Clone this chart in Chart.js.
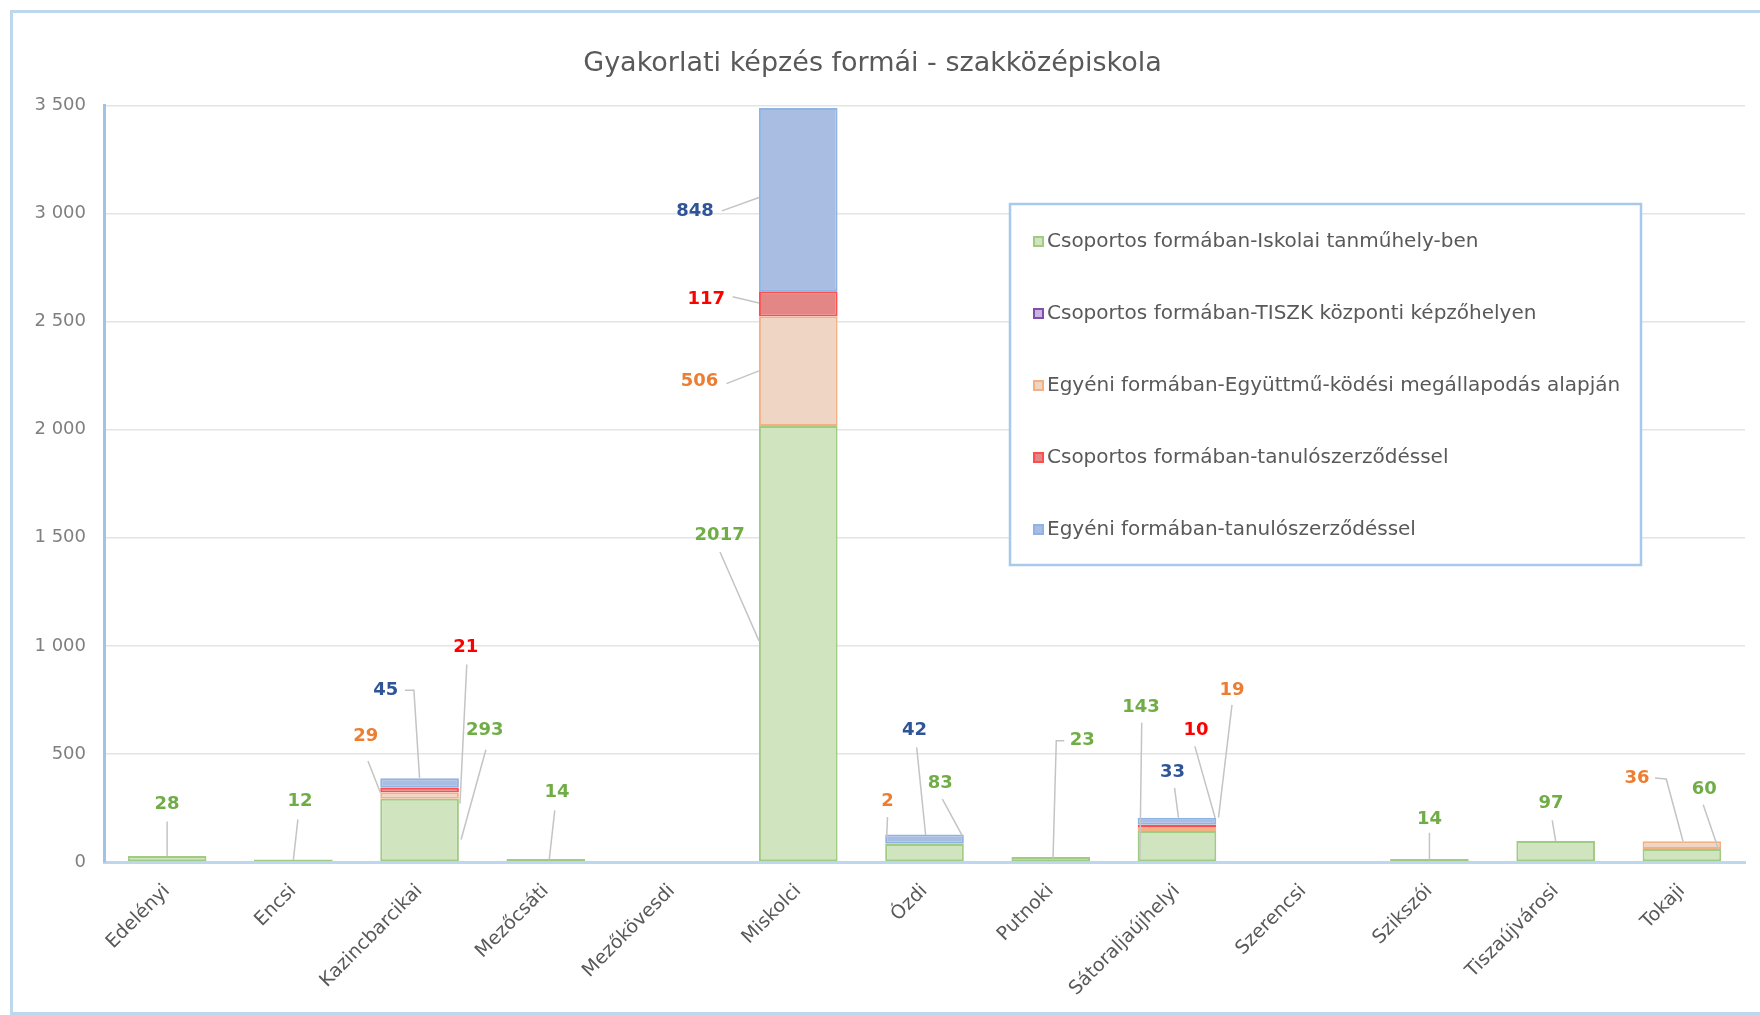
<!DOCTYPE html>
<html>
<head>
<meta charset="utf-8">
<script src="https://cdn.jsdelivr.net/npm/chart.js@4.4.1/dist/chart.umd.min.js"></script>
<style>
  html, body { margin: 0; padding: 0; background: #fff; }
  #wrap { position: relative; width: 1760px; height: 1015px; overflow: hidden; }
  #frame {
    position: absolute; left: 10px; top: 10px; width: 1800px; height: 999px;
    border-left: 3px solid #bdd7ee; border-top: 3px solid #bdd7ee; border-bottom: 3px solid #bdd7ee;
    pointer-events: none;
  }
</style>
</head>
<body>
<div id="wrap">
  <canvas id="chart" width="1760" height="1015"></canvas>
  <div id="frame"></div>
</div>
<script>
const $ = (id) => document.getElementById(id);

const categories = [
  "Edelényi", "Encsi", "Kazincbarcikai", "Mezőcsáti", "Mezőkövesdi", "Miskolci", "Ózdi",
  "Putnoki", "Sátoraljaújhelyi", "Szerencsi", "Szikszói", "Tiszaújvárosi", "Tokaji",
];
const seriesNames = [
  "Csoportos formában-Iskolai tanműhely-ben",
  "Csoportos formában-TISZK központi képzőhelyen",
  "Egyéni formában-Együttmű-ködési megállapodás alapján",
  "Csoportos formában-tanulószerződéssel",
  "Egyéni formában-tanulószerződéssel",
];
const iskolaiTanmuhely = [28, 12, 293, 14, 0, 2017, 83, 23, 143, 0, 14, 97, 60];
const tiszkKozponti = [0, 0, 0, 0, 0, 0, 0, 0, 0, 0, 0, 0, 0];
const egyuttmukodesi = [0, 0, 29, 0, 0, 506, 2, 0, 19, 0, 0, 0, 36];
const csoportosSzerzodes = [0, 0, 21, 0, 0, 117, 0, 0, 10, 0, 0, 0, 0];
const egyeniSzerzodes = [0, 0, 45, 0, 0, 848, 42, 0, 33, 0, 0, 0, 0];
const yMax = 3500;
const yStep = 500;

const fills = ["#d0e4bf", "#cbb5df", "#efd5c3", "#e28686", "#a9bde3"];
const borders = ["#a0cb82", "#7f4fb0", "#f3b183", "#ff4d4d", "#8fb3e3"];
const labelColors = ["#70ad47", "#7030a0", "#ed7d31", "#ff0000", "#2f5597"];

// data labels: series index, category, label offset (category units) and value height,
// leader line as [category offset, value] points
const labelLayout = [
  { ds: 0, cat: 0, dx: 0, v: 265, line: [[0, 187], [0, 28]] },
  { ds: 0, cat: 1, dx: 0.053, v: 280, line: [[0.036, 197], [0, 10]] },
  { ds: 2, cat: 2, dx: -0.427, v: 582, line: [[-0.409, 467], [-0.31, 320]] },
  { ds: 4, cat: 2, dx: -0.267, v: 795, line: [[-0.116, 795], [-0.045, 795], [0, 388]] },
  { ds: 3, cat: 2, dx: 0.365, v: 992, line: [[0.374, 914], [0.32, 270]] },
  { ds: 0, cat: 2, dx: 0.516, v: 607, line: [[0.525, 519], [0.329, 104]] },
  { ds: 0, cat: 3, dx: 0.089, v: 322, line: [[0.071, 239], [0.027, 10]] },
  { ds: 4, cat: 5, dx: -0.818, v: 3012, line: [[-0.605, 3012], [-0.311, 3074]] },
  { ds: 3, cat: 5, dx: -0.729, v: 2602, line: [[-0.52, 2615], [-0.311, 2586]] },
  { ds: 2, cat: 5, dx: -0.782, v: 2223, line: [[-0.569, 2213], [-0.311, 2272]] },
  { ds: 0, cat: 5, dx: -0.623, v: 1511, line: [[-0.62, 1434], [-0.311, 1023]] },
  { ds: 2, cat: 6, dx: -0.293, v: 280, line: [[-0.293, 208], [-0.3, 114]] },
  { ds: 4, cat: 6, dx: -0.08, v: 608, line: [[-0.062, 530], [0.009, 125]] },
  { ds: 0, cat: 6, dx: 0.125, v: 363, line: [[0.142, 291], [0.302, 119]] },
  { ds: 0, cat: 7, dx: 0.249, v: 561, line: [[0.107, 561], [0.044, 561], [0.018, 16]] },
  { ds: 0, cat: 8, dx: -0.285, v: 717, line: [[-0.279, 644], [-0.294, 10]] },
  { ds: 4, cat: 8, dx: -0.036, v: 415, line: [[-0.019, 343], [0.012, 205]] },
  { ds: 3, cat: 8, dx: 0.151, v: 607, line: [[0.142, 535], [0.302, 205]] },
  { ds: 2, cat: 8, dx: 0.436, v: 794, line: [[0.436, 727], [0.329, 205]] },
  { ds: 0, cat: 10, dx: 0, v: 197, line: [[0, 135], [0, 10]] },
  { ds: 0, cat: 11, dx: -0.036, v: 270, line: [[-0.027, 192], [0, 97]] },
  { ds: 2, cat: 12, dx: -0.356, v: 389, line: [[-0.213, 389], [-0.124, 384], [0.009, 96]] },
  { ds: 0, cat: 12, dx: 0.178, v: 337, line: [[0.169, 265], [0.289, 60]] },
];

const legendBox = { left: 1010, top: 204, right: 1641, bottom: 565, firstRow: 241, rowGap: 72 };

const fmtThousands = (v) => String(v).replace(/\B(?=(\d{3})+(?!\d))/g, " ");

const leaderLabels = {
  id: "leaderLabels",
  afterDatasetsDraw(chart) {
    const { ctx, scales: { x, y } } = chart;
    const cw = x.getPixelForValue(1) - x.getPixelForValue(0);
    const px = (cat, dx) => x.getPixelForValue(cat) + dx * cw;
    ctx.save();
    for (const l of labelLayout) {
      ctx.strokeStyle = "#c4c4c4";
      ctx.lineWidth = 1.5;
      ctx.beginPath();
      l.line.forEach(([dx, v], i) => {
        const X = px(l.cat, dx), Y = y.getPixelForValue(v);
        if (i) ctx.lineTo(X, Y); else ctx.moveTo(X, Y);
      });
      ctx.stroke();
    }
    ctx.font = "bold 18px 'DejaVu Sans'";
    ctx.textAlign = "center";
    ctx.textBaseline = "middle";
    for (const l of labelLayout) {
      ctx.fillStyle = labelColors[l.ds];
      ctx.fillText(String(chart.data.datasets[l.ds].data[l.cat]), px(l.cat, l.dx), y.getPixelForValue(l.v));
    }
    ctx.restore();
  },
};

const boxLegend = {
  id: "boxLegend",
  afterDraw(chart) {
    const { ctx } = chart;
    const b = legendBox;
    ctx.save();
    ctx.fillStyle = "#fff";
    ctx.fillRect(b.left, b.top, b.right - b.left, b.bottom - b.top);
    ctx.strokeStyle = "#a9c9ea";
    ctx.lineWidth = 2.5;
    ctx.strokeRect(b.left, b.top, b.right - b.left, b.bottom - b.top);
    ctx.font = "20px 'DejaVu Sans'";
    ctx.textAlign = "left";
    ctx.textBaseline = "middle";
    chart.data.datasets.forEach((ds, i) => {
      const cy = b.firstRow + i * b.rowGap;
      ctx.fillStyle = ds.backgroundColor;
      ctx.fillRect(b.left + 23, cy - 5, 11, 11);
      ctx.strokeStyle = ds.borderColor;
      ctx.lineWidth = 2;
      ctx.strokeRect(b.left + 24, cy - 4, 9, 9);
      ctx.fillStyle = "#595959";
      ctx.fillText(ds.label, b.left + 37, cy + 1);
    });
    ctx.restore();
  },
};

const seriesData = [iskolaiTanmuhely, tiszkKozponti, egyuttmukodesi, csoportosSzerzodes, egyeniSzerzodes];

new Chart($("chart"), {
  type: "bar",
  data: {
    labels: categories,
    datasets: seriesData.map((d, i) => ({
      label: seriesNames[i],
      data: d,
      backgroundColor: fills[i],
      borderColor: borders[i],
      borderWidth: 2,
      borderSkipped: false,
      barPercentage: 0.623,
      categoryPercentage: 1,
    })),
  },
  options: {
    responsive: false,
    animation: false,
    layout: { padding: { left: 0, right: 15, top: 0, bottom: 0 } },
    plugins: {
      legend: { display: false },
      tooltip: { enabled: false },
      title: {
        display: true,
        text: "Gyakorlati képzés formái - szakközépiskola",
        color: "#595959",
        font: { family: "DejaVu Sans", size: 27, weight: "normal" },
        padding: { top: 48, bottom: 25 },
      },
    },
    scales: {
      x: {
        stacked: true,
        grid: { display: false, drawTicks: false },
        border: { color: "#bdd7ee", width: 3 },
        ticks: {
          color: "#595959",
          font: { family: "DejaVu Sans", size: 19 },
          maxRotation: 45,
          minRotation: 45,
          padding: 18,
        },
        afterFit: (s) => { s.height = 153; },
      },
      y: {
        stacked: true,
        min: 0,
        max: yMax,
        ticks: {
          stepSize: yStep,
          color: "#7f7f7f",
          font: { family: "DejaVu Sans", size: 18 },
          padding: 18,
          callback: (v) => fmtThousands(v),
        },
        grid: { color: "#e4e4e4", lineWidth: 1.5, drawTicks: false },
        border: { color: "#9dc3e6", width: 3 },
        afterFit: (s) => { s.width = 104; },
      },
    },
  },
  plugins: [leaderLabels, boxLegend],
});
</script>
</body>
</html>
